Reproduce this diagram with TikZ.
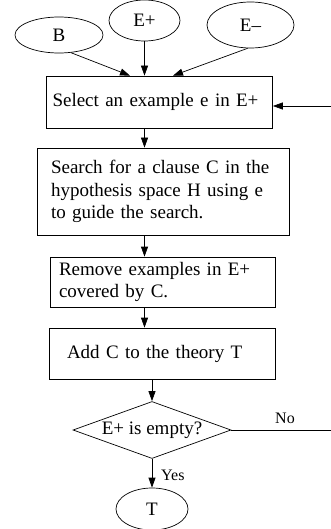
\documentclass[tikz,border=0pt]{standalone}
\usepackage{fontspec}
\setmainfont{Liberation Serif}
\usetikzlibrary{shapes.geometric,arrows.meta}
\begin{document}
\begin{tikzpicture}[x=1pt,y=-1pt,
  every node/.style={font=\fontsize{19}{22.5}\selectfont},
  oval/.style={draw,ellipse,inner sep=0pt,line width=0.7pt},
  stepbox/.style={draw,rectangle,align=left,inner ysep=0pt,line width=0.7pt},
  decision/.style={draw,diamond,aspect=2.77,inner sep=0pt,line width=0.7pt},
  arr/.style={line width=0.7pt,-{Triangle[length=10pt,width=7pt]}},
  lbl/.style={font=\fontsize{16}{18}\selectfont,inner sep=0pt}]
\useasboundingbox (0,0) rectangle (330,529);

% inputs
\node[oval,minimum width=88pt,minimum height=36pt] (B) at (59,35) {B};
\node[oval,minimum width=71pt,minimum height=41pt] (Ep) at (144.5,20.5) {E+};
\node[oval,minimum width=87pt,minimum height=46pt] (Em) at (250.5,25) {E--};

% process boxes
\node[stepbox,text width=214pt,inner xsep=6pt,minimum height=52pt] (box1) at (159.5,102)
  {\mbox{Select an example e in E+}};
\node[stepbox,text width=224pt,inner xsep=14pt,minimum height=87pt] (box2) at (163,191.5)
  {\mbox{Search for a clause C in the}\\\mbox{hypothesis space H using e}\\\mbox{to guide the search.}};
\node[stepbox,text width=207pt,inner xsep=9pt,minimum height=50pt] (box3) at (162.5,282)
  {\mbox{Remove examples in E+}\\\mbox{covered by C.}};
\node[stepbox,text width=190pt,inner xsep=18pt,minimum height=51pt] (box4) at (162,353.5)
  {\mbox{Add C to the theory T}};

% decision and result
\node[decision,minimum width=158pt,minimum height=57pt] (d) at (152,430) {E+ is empty?};
\node[oval,minimum width=72pt,minimum height=42pt] (T) at (152,509) {T};

% labels
\node[lbl,anchor=base west] (no) at (275,423) {No};
\node[lbl,anchor=base west] (yes) at (161,480) {Yes};

% connectors
\draw[arr] (B.-56) -- ([xshift=-29.5pt]box1.north);
\draw[arr] (Ep) -- (box1.north -| Ep);
\draw[arr] (Em.-97) -- ([xshift=13.5pt]box1.north);
\draw[arr] (box1.south -| Ep) -- (box2.north -| Ep);
\draw[arr] (box2.south -| Ep) -- (box3.north -| Ep);
\draw[arr] (box3.south -| Ep) -- (box4.north -| Ep);
\draw[arr] (box4.south -| d) -- (d.north);
\draw[arr] (d.south) -- (T.north);
\coordinate (loopb) at (336,430);
\draw[arr] (d.east) -- (loopb) |- ([yshift=-4pt]box1.east);
\end{tikzpicture}
\end{document}
